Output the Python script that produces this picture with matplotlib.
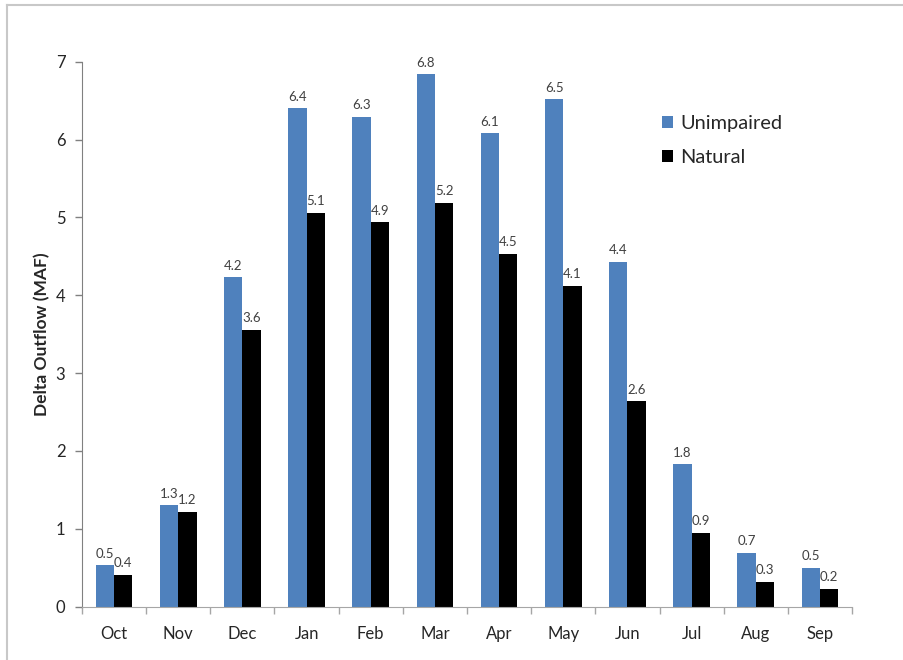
import matplotlib
matplotlib.use("Agg")
import matplotlib.pyplot as plt
import numpy as np
from matplotlib.lines import Line2D

months = ["Oct", "Nov", "Dec", "Jan", "Feb", "Mar", "Apr", "May", "Jun", "Jul", "Aug", "Sep"]
unimpaired = [0.53, 1.30, 4.23, 6.40, 6.29, 6.84, 6.08, 6.52, 4.43, 1.83, 0.69, 0.50]
natural = [0.41, 1.22, 3.56, 5.06, 4.94, 5.19, 4.53, 4.12, 2.64, 0.95, 0.32, 0.23]
unimpaired_labels = ["0.5", "1.3", "4.2", "6.4", "6.3", "6.8", "6.1", "6.5", "4.4", "1.8", "0.7", "0.5"]
natural_labels = ["0.4", "1.2", "3.6", "5.1", "4.9", "5.2", "4.5", "4.1", "2.6", "0.9", "0.3", "0.2"]
yticks = [0, 1, 2, 3, 4, 5, 6, 7]

plt.rcParams['font.family'] = ['Lato', 'DejaVu Sans']

fig = plt.figure(figsize=(9.04, 6.6), dpi=100)
ax = fig.add_axes([82/904, 53.3/660, 770/904, 545/660])

x = np.arange(len(months))
w = 0.285
blue = "#4F81BD"
ax.bar(x - w/2, unimpaired, w, color=blue, label="Unimpaired")
ax.bar(x + w/2, natural, w, color="black", label="Natural")

for xi, v, t in zip(x, unimpaired, unimpaired_labels):
    ax.annotate(t, (xi - w/2, v), xytext=(0, 4), textcoords="offset points",
                ha="center", va="bottom", fontsize=9.5, color="#404040")
for xi, v, t in zip(x, natural, natural_labels):
    ax.annotate(t, (xi + w/2, v), xytext=(0, 4), textcoords="offset points",
                ha="center", va="bottom", fontsize=9.5, color="#404040")

ax.set_xlim(-0.5, len(months) - 0.5)
ax.set_ylim(0, 7)
ax.set_yticks(yticks)
ax.set_yticklabels([str(t) for t in yticks])
ax.set_xticks(x)
ax.set_xticklabels(months)
ax.set_xticks(np.arange(len(months) + 1) - 0.5, minor=True)
ax.tick_params(axis="x", which="major", length=0, pad=14, labelsize=12, labelcolor="#262626")
ax.tick_params(axis="x", which="minor", length=5, width=1, color="#a6a6a6", direction="out")
ax.tick_params(axis="y", length=5, width=1, color="#808080", pad=7, labelsize=12, labelcolor="#262626")

for s in ["top", "right"]:
    ax.spines[s].set_visible(False)
ax.spines["left"].set_color("#808080")
ax.spines["bottom"].set_color("#a6a6a6")

ax.set_ylabel("Delta Outflow (MAF)", fontsize=12.5, fontweight="bold", color="#262626", labelpad=4)

ax.legend(loc="upper left", bbox_to_anchor=(572/770, 1 - 45.5/545), frameon=False,
          borderaxespad=0, fontsize=14.4, handlelength=0.55, handleheight=0.55,
          handletextpad=0.35, labelspacing=0.85, labelcolor="#262626")

fig.add_artist(Line2D([7/904, 7/904], [0, 1 - 5/660], transform=fig.transFigure, color="#c8c8c8", lw=1.5))
fig.add_artist(Line2D([7/904, 1], [1 - 5/660, 1 - 5/660], transform=fig.transFigure, color="#c8c8c8", lw=1.5))

fig.savefig("out.png", dpi=100)
